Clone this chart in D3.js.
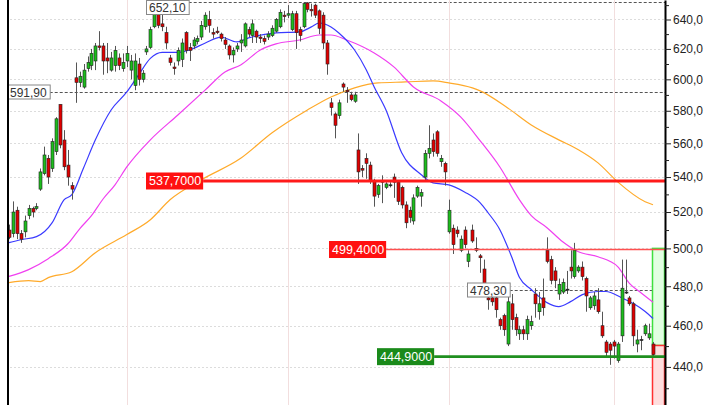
<!DOCTYPE html>
<html><head><meta charset="utf-8">
<script src="https://cdn.jsdelivr.net/npm/d3@7"></script>
<style>body{margin:0;background:#fff;}svg{display:block;}</style>
</head><body>
<svg id="c" width="720" height="405"></svg>
<script>
// ---- candle data ----
const opens  = [510,508,521,508,509,518,522,522,533,542,551,545,555,584,562,547,535,601,598,595,607,609,612,622,622,614,606,609,614,607,612,606,596,610,600,618,621,635,646,637,631,614,608,612,613,631,621,622,625,628,635,640,631,632,630,626,622,616,620,624,622,633,629,632,628,627,628,629,632,635,643,643,633,644,633,635,651.5,647,650,646,643,624,585,578,577,597,593,590,586,556,545,551,547,538,530,538,534,535,540,537,534,524,521,515,529,529,540,554,562,567,549,548,509,511,510,499,510,493,510,500,496,489,474,474,474,463,465,451,471,464,456,458,456,460,476,467,474,499,494,488,476,477,478,490,485,488,490,484,469,470,473,460,452,451,452,443,455,477,474,471,451,453,456,454,451];
const closes = [506,520,508,505,515,522,520,523,543,553,540,561,575,559,546,540,533,598,602,606,611,617,622,621,612,612,614,619,609,611,617,612,612,600,604,620,633,646,636,635,624,611,607,619,624,619,619,626,627,636,643,636,630,631,627,623,616,619,622,626,637,630,637,628,627,625,630,634,640,645,642,644,644,631,629,651,647,646,643,634,624,610,582,571,585,595,592,587,590,543,544,548,538,529,535,537,536,535.5,537,526,524,514,517,528,534,531,554,557,555,554,551,543,521,502,508,505,502,497,504,499,495,481,473,472,468,460,458,472,463,458,458,456,463,462,471,471,469,493,483,483,481,482,478.5,488,499,490,485,475,474,475,467,455,447,448,450,451,479,476.5,471,455,453,453.2,460,456,446];
const highs  = [513,526,523,510,518,524,523,525,545,558,553,563,576,584,568,556,537,611,605,610,615,620,624,632,624,624,618,622,617,617,622,616,617,614,606,622,635,648,648,645,635,616,611,621,627,632,624,628,629,639,645,646,634,635,631,628,623,621,624,630,638,635,640,633,630,629,632,636,641,647,646,650,646,646,635,651.8,652.1,651,651,647,645,626,588,579,587,598,595,592,592,566,547,554,549,539,536,541,537,537,542,538,535,526,523,530,535,533,556,571,566,568,553,549,527,513,512,507,512,499,513,506,497,494,479,475,475,464,466,476,476,466,460,460,465,465,479,477,484,506,496,490,484,484,488,499,503,491,493,485,475,477,479,467,453,452,453,452,494,494,475,472,458,455,461,461,452];
const lows   = [505,506,505,503,506,516,517,521,532,541,536,543,553,557,544,535,527,585,595,594,605,606,606,619,603,604,605,605,606,605,608,600,593,596,598,616,620,634,634,632,620,609,603,609,608,617,612,620,623,626,633,631,627,630,625,620,613,611,618,618,621,628,624,624,624,623,626,628,631,634,638,641,632,620,625,634,645,642,641,630,620,603,577,563,575,592,585,586,585,536,540,539,536,523,528,525,533,534,528,524,522,511,514,513,528,523,538,551,552,552,546,535,508,497,506,498,500,490,503,498,487,475,468,470,464,458,455,450,458,455,453,453,453,458,464,463,465,492,481,479,473,476,476,484,484,487,483,467,468,468,466,454,445,441,444,442,452,476,470,450,447,448,455,453,445];

// ---- moving averages (read at sample bars) ----
const maFastIdx = [0,3,7,11,14,16,19,22,26,30,33,36,39,43,46,50,54,58,61,68,74,77,79,82,84,88,91,93,96,100,105,108,112,116,120,122,125,128,130,133,137,140,143,146,150,152,156,159,162,164];
const maFastVal = [503.1,504.7,506.4,514.1,526.9,529.8,545.4,562.1,580.5,591.9,602.9,613.7,617.7,617.7,619.3,624.0,628.0,624.7,627.4,630.8,631.5,634.9,637.6,634.9,630.8,619.3,606.1,595.1,580.5,554.3,541.3,536.6,535.5,531.4,525.2,519.6,510.2,495.5,484.5,478.3,471.6,469.6,472.1,475.7,477.3,477.3,474.1,471.1,467.1,463.6];
const maMidIdx = [0,5,10,15,18,21,24,27,30,36,43,50,55,59,64,68,74,79,82,86,93,98,103,110,115,120,125,130,133,137,141,145,150,155,158,161,164];
const maMidVal = [485.1,488.7,494.5,502.5,510.7,518.0,527.5,535.5,545.9,562.1,577.4,593.2,604.8,609.4,619.3,623.4,626.0,629.4,629.4,626.0,617.3,608.1,595.1,586.2,576.2,561.5,545.9,526.9,518.0,511.3,503.6,498.2,495.5,490.3,481.5,476.5,471.8];
const maSlowIdx = [0,5,8,10,16,22,30,36,41,49,59,67,76,82,88,94,101,108,112,118,120,127,133,140,145,150,155,162,164];
const maSlowVal = [481.9,482.9,482.4,484.5,487.6,497.7,507.5,515.7,526.9,538.4,551.0,566.4,580.5,588.7,594.5,597.7,598.3,599.0,597.7,594.5,592.6,581.8,571.2,562.1,556.1,548.3,537.2,525.8,524.1];

// ---- axis ticks ----
const yTicks = [440,460,480,500,520,540,560,580,600,620,640];
const yMinor = [430,450,470,490,510,530,550,570,590,610,630,650];
const tickLabels = ["440,0","460,0","480,0","500,0","520,0","540,0","560,0","580,0","600,0","620,0","640,0"];
const gridBars = [30,71,112,154];

// ---- annotations ----
const markLevels = [ {value:652.10, text:"652,10", at:35}, {value:591.90, text:"591,90", at:-0.5}, {value:478.30, text:"478,30", at:116.6} ];
const levelLines = [ {value:537.70, text:"537,7000", at:35, color:"#ff1a1a", box:"#ff1010", width:3},
                     {value:499.40, text:"499,4000", at:81.5, color:"#ff5050", box:"#ff1010", width:1.6},
                     {value:444.90, text:"444,9000", at:93.7, color:"#1f8f1f", box:"#1a8a1a", width:2.6} ];
const zoneTop = 500, zoneMid = 450.3, zoneBottom = 415;

const W = 720, H = 405, plotL = 8, plotR = 665;
const svg = d3.select("#c");
const n = opens.length;
const x = d3.scaleLinear().domain([0, n-1]).range([9, 653]);
const y = d3.scaleLog().domain([422.3, 653.6]).range([H, 0]);
const font = "'Liberation Sans', Arial, sans-serif";

svg.append("rect").attr("width", W).attr("height", H).attr("fill", "#ffffff");

// horizontal grid
svg.append("g").selectAll("line").data(yTicks).join("line")
  .attr("x1", plotL+2).attr("x2", plotR)
  .attr("y1", d => Math.round(y(d))+0.5).attr("y2", d => Math.round(y(d))+0.5)
  .attr("stroke", "#dcdcdc").attr("stroke-dasharray", "2,2");
// vertical grid
svg.append("g").selectAll("line").data(gridBars).join("line")
  .attr("x1", d => Math.round(x(d))+0.5).attr("x2", d => Math.round(x(d))+0.5)
  .attr("y1", 0).attr("y2", H).attr("stroke", "#f2dede");

// zones at right
const zx = Math.round(x(n-1)) - 1;
svg.append("rect").attr("x", zx+0.5).attr("y", y(zoneTop)).attr("width", plotR - zx - 1)
  .attr("height", y(zoneMid) - y(zoneTop)).attr("fill", "#e2ffe2").attr("stroke", "#3ee03e").attr("stroke-width", 1.5);
svg.append("rect").attr("x", zx+0.5).attr("y", y(zoneMid)).attr("width", plotR - zx - 1)
  .attr("height", y(zoneBottom) - y(zoneMid)).attr("fill", "#ffdede").attr("stroke", "#ff3030").attr("stroke-width", 1.5);

// moving averages
function maLine(idx, vals, color) {
  const pts = idx.map((d, k) => [d, vals[k]]);
  svg.append("path").datum(pts)
    .attr("d", d3.line().x(d => x(d[0])).y(d => y(d[1])).curve(d3.curveMonotoneX))
    .attr("fill", "none").attr("stroke", color).attr("stroke-width", 1.2);
}
maLine(maSlowIdx, maSlowVal, "#ffaa2a");
maLine(maMidIdx, maMidVal, "#f040f0");
maLine(maFastIdx, maFastVal, "#3a3aff");

// dashed marks with white label boxes
markLevels.forEach(m => {
  const g = svg.append("g");
  const yy = Math.round(y(m.value)) + 0.5;
  const by = Math.max(0.5, yy - 7.5);
  const bx = Math.round(x(m.at));
  const t = g.append("text").attr("x", bx + 3).attr("y", by + 7.5).attr("dy", "0.36em")
    .attr("font-family", font).attr("font-size", 12).attr("fill", "#333").text(m.text);
  const tw = t.node().getComputedTextLength();
  g.insert("rect", "text").attr("x", bx + 0.5).attr("y", by).attr("width", tw + 6).attr("height", 14)
    .attr("fill", "#fff").attr("stroke", "#888");
  svg.insert("line", "g").attr("x1", bx + tw + 6).attr("x2", plotR).attr("y1", yy).attr("y2", yy)
    .attr("stroke", "#555").attr("stroke-dasharray", "3,2");
  m._g = g;
});

// candles
const candles = d3.range(n).map(i => ({i, o: opens[i], c: closes[i], h: highs[i], l: lows[i]}));
const cg = svg.append("g");
cg.selectAll("line").data(candles).join("line")
  .attr("x1", d => Math.round(x(d.i))+0.5).attr("x2", d => Math.round(x(d.i))+0.5)
  .attr("y1", d => y(d.h)).attr("y2", d => y(d.l)).attr("stroke", "#555").attr("stroke-width", 1);
cg.selectAll("rect").data(candles).join("rect")
  .attr("x", d => Math.round(x(d.i)) - 1).attr("width", 3)
  .attr("y", d => y(Math.max(d.o, d.c)))
  .attr("height", d => Math.max(1, y(Math.min(d.o, d.c)) - y(Math.max(d.o, d.c))))
  .attr("fill", d => Math.abs(d.o - d.c) < 0.8 ? "#222" : (d.c > d.o ? "#1dbd1d" : "#e00000"))
  .attr("stroke", "#222").attr("stroke-width", 0.6);

markLevels.forEach(m => m._g.raise());

// level lines with filled labels
levelLines.forEach(L => {
  const yy = y(L.value);
  const bx = Math.round(x(L.at));
  const g = svg.append("g");
  const t = g.append("text").attr("x", bx + 3).attr("y", yy).attr("dy", "0.36em")
    .attr("font-family", font).attr("font-size", 12.5).attr("fill", "#fff").text(L.text);
  const tw = t.node().getComputedTextLength();
  g.insert("rect", "text").attr("x", bx).attr("y", yy - 8.5).attr("width", tw + 5).attr("height", 17).attr("fill", L.box);
  g.insert("line", "rect").attr("x1", bx + tw + 5).attr("x2", plotR).attr("y1", yy).attr("y2", yy)
    .attr("stroke", L.color).attr("stroke-width", L.width);
});

// axes
svg.append("line").attr("x1", plotL).attr("x2", plotL).attr("y1", 0).attr("y2", H).attr("stroke", "#000").attr("stroke-width", 2);
const ax = svg.append("g").attr("transform", `translate(${plotR},0)`)
  .call(d3.axisRight(y).tickValues(yTicks).tickSize(6).tickSizeOuter(0).tickPadding(2)
    .tickFormat(d => tickLabels[yTicks.indexOf(d)]));
ax.select(".domain").attr("stroke", "#000").attr("stroke-width", 2);
ax.selectAll("text").attr("font-family", font).attr("font-size", 12).attr("fill", "#222");
ax.selectAll(".tick line").attr("stroke", "#222");
const mx = svg.append("g").attr("transform", `translate(${plotR},0)`)
  .call(d3.axisRight(y).tickValues(yMinor).tickSize(4).tickSizeOuter(0).tickFormat(""));
mx.select(".domain").remove();
mx.selectAll(".tick line").attr("stroke", "#222");
</script>
</body></html>
